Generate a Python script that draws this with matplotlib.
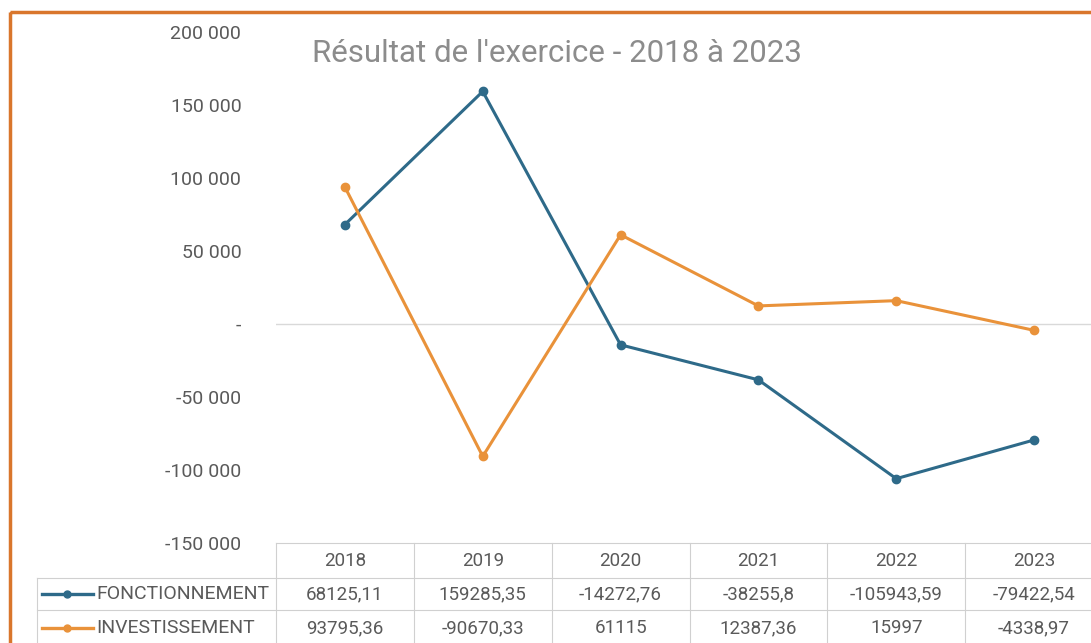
import matplotlib
matplotlib.use("Agg")
import matplotlib.pyplot as plt
from matplotlib.patches import Rectangle
from matplotlib.ticker import FuncFormatter

years = ["2018", "2019", "2020", "2021", "2022", "2023"]
fonctionnement = [68125.11, 159285.35, -14272.76, -38255.8, -105943.59, -79422.54]
investissement = [93795.36, -90670.33, 61115, 12387.36, 15997, -4338.97]
fonct_labels = ["68125,11", "159285,35", "-14272,76", "-38255,8", "-105943,59", "-79422,54"]
invest_labels = ["93795,36", "-90670,33", "61115", "12387,36", "15997", "-4338,97"]
series_names = ["FONCTIONNEMENT", "INVESTISSEMENT"]
title = "Résultat de l'exercice - 2018 à 2023"
yticks = [-150000, -100000, -50000, 0, 50000, 100000, 150000, 200000]

BLUE = "#2E6A89"
ORANGE = "#E9923A"
BORDER = "#D9762C"
TXT = "#5a5a5a"
GRID = "#d9d9d9"

W, H = 1091, 643
fig = plt.figure(figsize=(W / 100, H / 100), dpi=100)
fig.patch.set_facecolor("white")

def fx(px):
    return px / W

def fy(py):
    return 1 - py / H

x0, x1 = 276, 1103
ytop, ybot = 32, 543
ax = fig.add_axes([fx(x0), fy(ybot), fx(x1) - fx(x0), fy(ytop) - fy(ybot)])
ax.set_facecolor("none")
n = len(years)
xs = list(range(n))
ax.set_xlim(-0.5, n - 0.5)
ax.set_ylim(-150000, 200000)
ax.axhline(0, color=GRID, lw=1, zorder=1)
ax.plot(xs, fonctionnement, color=BLUE, lw=2.2, marker="o", ms=6, zorder=3)
ax.plot(xs, investissement, color=ORANGE, lw=2.2, marker="o", ms=6, zorder=3)
for s in ax.spines.values():
    s.set_visible(False)
ax.set_xticks([])
ax.set_yticks(yticks)

def fmt(v, pos):
    if v == 0:
        return "-"
    s = f"{abs(int(v)):,}".replace(",", " ")
    return ("-" if v < 0 else "") + s

ax.yaxis.set_major_formatter(FuncFormatter(fmt))
ax.tick_params(axis="y", length=0, pad=25, labelsize=14, labelcolor=TXT)
for lab in ax.get_yticklabels():
    lab.set_family("Roboto")

ov = fig.add_axes([0, 0, 1, 1])
ov.set_xlim(0, W)
ov.set_ylim(H, 0)
ov.axis("off")
ov.set_facecolor("none")

ov.add_patch(Rectangle((10, 12), 1200, 800, fill=False, edgecolor=BORDER, lw=2.5, zorder=5))

ov.text(557, 53, title, ha="center", va="center", fontsize=22.5, color="#8c8c8c", family="Roboto")

col_w = (x1 - x0) / n
lc = "#d0d0d0"
ov.plot([x0, W], [543, 543], color=lc, lw=0.8)
ov.plot([37, W], [578, 578], color=lc, lw=0.8)
ov.plot([37, W], [610, 610], color=lc, lw=0.8)
for i in range(n + 1):
    xx = x0 + i * col_w
    ov.plot([xx, xx], [543, 645], color=lc, lw=0.8)
ov.plot([37, 37], [578, 645], color=lc, lw=0.8)

tfont = dict(fontsize=13.5, color=TXT, family="Roboto")
for i, yr in enumerate(years):
    cx = x0 + (i + 0.5) * col_w
    ov.text(cx, 561, yr, ha="center", va="center", **tfont)
    ov.text(cx, 594, fonct_labels[i], ha="center", va="center", **tfont)
    ov.text(cx, 628, invest_labels[i], ha="center", va="center", **tfont)

lfont = dict(fontsize=14, color=TXT, family="Roboto")
for (ry, name, col) in [(594, series_names[0], BLUE), (628, series_names[1], ORANGE)]:
    ov.plot([42, 93], [ry, ry], color=col, lw=2.4)
    ov.plot([67], [ry], marker="o", ms=5, color=col)
    ov.text(96, ry, name, ha="left", va="center", **lfont)

fig.savefig("out.png", dpi=100, facecolor="white")
